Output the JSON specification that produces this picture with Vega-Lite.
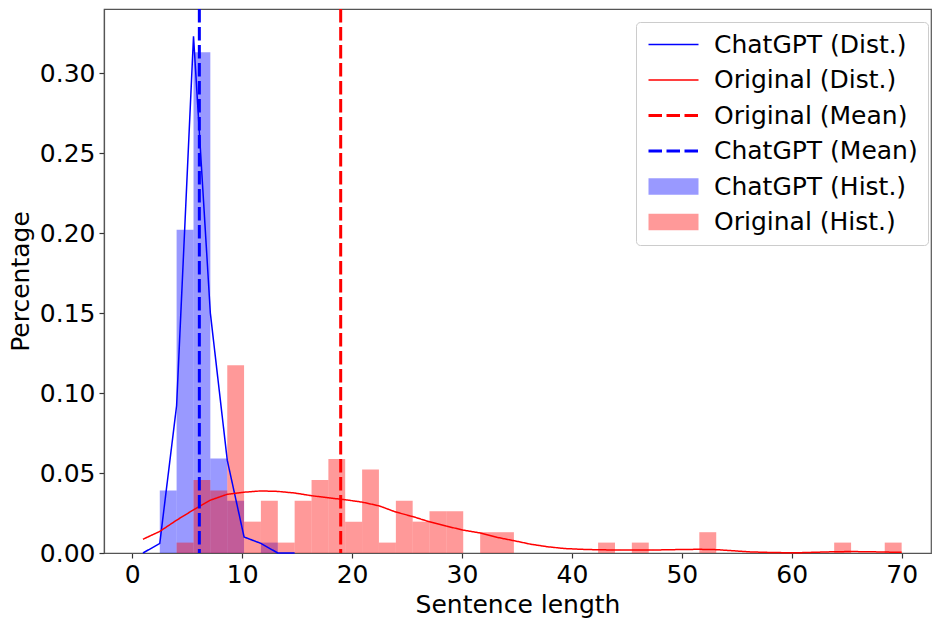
{
  "$schema": "https://vega.github.io/schema/vega-lite/v6.json",
  "width": 827,
  "height": 544,
  "autosize": {"type": "none"},
  "padding": {"left": 104, "top": 9, "right": 1, "bottom": 69},
  "background": "white",
  "config": {
    "font": "DejaVu Sans",
    "view": {"stroke": "#555", "strokeWidth": 1.2},
    "axis": {
      "grid": false,
      "domainColor": "#555",
      "domainWidth": 1.2,
      "tickColor": "#333",
      "tickWidth": 1.2,
      "tickSize": 5,
      "labelFont": "DejaVu Sans",
      "labelFontSize": 25,
      "labelColor": "#000",
      "titleFont": "DejaVu Sans",
      "titleFontSize": 25,
      "titleFontWeight": "normal",
      "titleColor": "#000"
    }
  },
  "datasets": {
    "hist": [
      {"series": "ChatGPT (Hist.)", "x0": 2.50, "x1": 4.03, "y": 0.039},
      {"series": "ChatGPT (Hist.)", "x0": 4.03, "x1": 5.57, "y": 0.202},
      {"series": "ChatGPT (Hist.)", "x0": 5.57, "x1": 7.10, "y": 0.313},
      {"series": "ChatGPT (Hist.)", "x0": 7.10, "x1": 8.64, "y": 0.059},
      {"series": "ChatGPT (Hist.)", "x0": 8.64, "x1": 10.17, "y": 0.0326},
      {"series": "ChatGPT (Hist.)", "x0": 11.70, "x1": 13.24, "y": 0.0065},
      {"series": "Original (Hist.)", "x0": 4.03, "x1": 5.57, "y": 0.0065},
      {"series": "Original (Hist.)", "x0": 5.57, "x1": 7.10, "y": 0.0456},
      {"series": "Original (Hist.)", "x0": 7.10, "x1": 8.64, "y": 0.0391},
      {"series": "Original (Hist.)", "x0": 8.64, "x1": 10.17, "y": 0.1173},
      {"series": "Original (Hist.)", "x0": 10.17, "x1": 11.70, "y": 0.0196},
      {"series": "Original (Hist.)", "x0": 11.70, "x1": 13.24, "y": 0.0326},
      {"series": "Original (Hist.)", "x0": 13.24, "x1": 14.77, "y": 0.0065},
      {"series": "Original (Hist.)", "x0": 14.77, "x1": 16.31, "y": 0.0326},
      {"series": "Original (Hist.)", "x0": 16.31, "x1": 17.84, "y": 0.0456},
      {"series": "Original (Hist.)", "x0": 17.84, "x1": 19.37, "y": 0.0587},
      {"series": "Original (Hist.)", "x0": 19.37, "x1": 20.91, "y": 0.0196},
      {"series": "Original (Hist.)", "x0": 20.91, "x1": 22.44, "y": 0.0522},
      {"series": "Original (Hist.)", "x0": 22.44, "x1": 23.98, "y": 0.0065},
      {"series": "Original (Hist.)", "x0": 23.98, "x1": 25.51, "y": 0.0326},
      {"series": "Original (Hist.)", "x0": 25.51, "x1": 27.04, "y": 0.0196},
      {"series": "Original (Hist.)", "x0": 27.04, "x1": 28.58, "y": 0.0261},
      {"series": "Original (Hist.)", "x0": 28.58, "x1": 30.11, "y": 0.0261},
      {"series": "Original (Hist.)", "x0": 31.65, "x1": 33.18, "y": 0.0130},
      {"series": "Original (Hist.)", "x0": 33.18, "x1": 34.72, "y": 0.0130},
      {"series": "Original (Hist.)", "x0": 42.38, "x1": 43.92, "y": 0.0065},
      {"series": "Original (Hist.)", "x0": 45.45, "x1": 46.99, "y": 0.0065},
      {"series": "Original (Hist.)", "x0": 51.59, "x1": 53.13, "y": 0.0130},
      {"series": "Original (Hist.)", "x0": 63.86, "x1": 65.40, "y": 0.0065},
      {"series": "Original (Hist.)", "x0": 68.46, "x1": 70.00, "y": 0.0065}
    ],
    "kde": [
      {"series": "ChatGPT (Dist.)", "x": 0.97, "y": 0.0},
      {"series": "ChatGPT (Dist.)", "x": 2.50, "y": 0.006},
      {"series": "ChatGPT (Dist.)", "x": 4.03, "y": 0.092},
      {"series": "ChatGPT (Dist.)", "x": 5.57, "y": 0.323},
      {"series": "ChatGPT (Dist.)", "x": 7.10, "y": 0.150},
      {"series": "ChatGPT (Dist.)", "x": 8.64, "y": 0.058},
      {"series": "ChatGPT (Dist.)", "x": 10.17, "y": 0.010},
      {"series": "ChatGPT (Dist.)", "x": 11.70, "y": 0.006},
      {"series": "ChatGPT (Dist.)", "x": 13.24, "y": 0.0},
      {"series": "ChatGPT (Dist.)", "x": 14.77, "y": 0.0},
      {"series": "Original (Dist.)", "x": 0.97, "y": 0.0086},
      {"series": "Original (Dist.)", "x": 2.50, "y": 0.0135},
      {"series": "Original (Dist.)", "x": 4.03, "y": 0.0205},
      {"series": "Original (Dist.)", "x": 5.57, "y": 0.027},
      {"series": "Original (Dist.)", "x": 7.10, "y": 0.033},
      {"series": "Original (Dist.)", "x": 8.64, "y": 0.0367},
      {"series": "Original (Dist.)", "x": 10.17, "y": 0.038},
      {"series": "Original (Dist.)", "x": 11.70, "y": 0.0388},
      {"series": "Original (Dist.)", "x": 13.24, "y": 0.0385},
      {"series": "Original (Dist.)", "x": 14.77, "y": 0.0375},
      {"series": "Original (Dist.)", "x": 16.31, "y": 0.0358},
      {"series": "Original (Dist.)", "x": 17.84, "y": 0.0345},
      {"series": "Original (Dist.)", "x": 19.37, "y": 0.0333},
      {"series": "Original (Dist.)", "x": 20.91, "y": 0.0318},
      {"series": "Original (Dist.)", "x": 22.44, "y": 0.0295},
      {"series": "Original (Dist.)", "x": 23.98, "y": 0.0256},
      {"series": "Original (Dist.)", "x": 25.51, "y": 0.0228},
      {"series": "Original (Dist.)", "x": 27.04, "y": 0.0195},
      {"series": "Original (Dist.)", "x": 28.58, "y": 0.0168},
      {"series": "Original (Dist.)", "x": 30.11, "y": 0.0143},
      {"series": "Original (Dist.)", "x": 31.65, "y": 0.0125},
      {"series": "Original (Dist.)", "x": 33.18, "y": 0.0098},
      {"series": "Original (Dist.)", "x": 34.72, "y": 0.0077},
      {"series": "Original (Dist.)", "x": 36.25, "y": 0.0055},
      {"series": "Original (Dist.)", "x": 37.78, "y": 0.0039},
      {"series": "Original (Dist.)", "x": 39.32, "y": 0.0028},
      {"series": "Original (Dist.)", "x": 40.85, "y": 0.0023},
      {"series": "Original (Dist.)", "x": 42.39, "y": 0.002},
      {"series": "Original (Dist.)", "x": 43.92, "y": 0.0019},
      {"series": "Original (Dist.)", "x": 45.46, "y": 0.0018},
      {"series": "Original (Dist.)", "x": 46.99, "y": 0.0018},
      {"series": "Original (Dist.)", "x": 48.52, "y": 0.002},
      {"series": "Original (Dist.)", "x": 50.06, "y": 0.0022},
      {"series": "Original (Dist.)", "x": 51.59, "y": 0.0023},
      {"series": "Original (Dist.)", "x": 53.13, "y": 0.0021},
      {"series": "Original (Dist.)", "x": 54.66, "y": 0.0014},
      {"series": "Original (Dist.)", "x": 56.20, "y": 0.0007},
      {"series": "Original (Dist.)", "x": 57.73, "y": 0.0004},
      {"series": "Original (Dist.)", "x": 59.26, "y": 0.0002},
      {"series": "Original (Dist.)", "x": 60.80, "y": 0.0002},
      {"series": "Original (Dist.)", "x": 62.33, "y": 0.0005},
      {"series": "Original (Dist.)", "x": 63.87, "y": 0.0008},
      {"series": "Original (Dist.)", "x": 65.40, "y": 0.0009},
      {"series": "Original (Dist.)", "x": 66.94, "y": 0.0008},
      {"series": "Original (Dist.)", "x": 68.47, "y": 0.0006},
      {"series": "Original (Dist.)", "x": 70.00, "y": 0.0004}
    ],
    "means": [
      {"series": "Original (Mean)", "x": 18.96},
      {"series": "ChatGPT (Mean)", "x": 6.1}
    ]
  },
  "layer": [
    {
      "data": {"name": "hist"},
      "mark": {"type": "bar", "strokeWidth": 0},
      "encoding": {
        "x": {
          "field": "x0", "type": "quantitative",
          "scale": {"domain": [-2.575, 72.67], "nice": false, "zero": false},
          "axis": {"values": [0, 10, 20, 30, 40, 50, 60, 70], "format": "d", "title": "Sentence length", "labelPadding": 4, "titlePadding": 5}
        },
        "x2": {"field": "x1"},
        "y": {
          "field": "y", "type": "quantitative",
          "scale": {"domain": [0, 0.34], "nice": false},
          "axis": {"values": [0, 0.05, 0.1, 0.15, 0.2, 0.25, 0.3], "format": ".2f", "title": "Percentage", "labelPadding": 4, "titlePadding": 6}
        },
        "y2": {"datum": 0},
        "fill": {
          "field": "series", "type": "nominal",
          "scale": {
            "domain": ["ChatGPT (Dist.)", "Original (Dist.)", "Original (Mean)", "ChatGPT (Mean)", "ChatGPT (Hist.)", "Original (Hist.)"],
            "range": ["transparent", "transparent", "transparent", "transparent", "rgba(0,0,255,0.4)", "rgba(255,0,0,0.4)"]
          },
          "legend": {"title": null}
        }
      }
    },
    {
      "data": {"name": "kde"},
      "mark": {"type": "line"},
      "encoding": {
        "x": {"field": "x", "type": "quantitative"},
        "y": {"field": "y", "type": "quantitative"},
        "stroke": {
          "field": "series", "type": "nominal",
          "scale": {
            "domain": ["ChatGPT (Dist.)", "Original (Dist.)", "Original (Mean)", "ChatGPT (Mean)", "ChatGPT (Hist.)", "Original (Hist.)"],
            "range": ["#0000ff", "#ff0000", "#ff0000", "#0000ff", "transparent", "transparent"]
          },
          "legend": {
            "title": null,
            "orient": "none",
            "legendX": 532,
            "legendY": 13,
            "padding": 10,
            "fillColor": "rgba(255,255,255,0.8)",
            "strokeColor": "#cccccc",
            "cornerRadius": 4,
            "labelFont": "DejaVu Sans",
            "labelFontSize": 25,
            "labelColor": "#000",
            "labelOffset": 43,
            "labelLimit": 400,
            "symbolSize": 400,
            "symbolType": "M-1,0H4",
            "symbolOpacity": 1,
            "rowPadding": 9.5
          }
        },
        "strokeWidth": {
          "field": "series", "type": "nominal",
          "scale": {
            "type": "ordinal",
            "domain": ["ChatGPT (Dist.)", "Original (Dist.)", "Original (Mean)", "ChatGPT (Mean)", "ChatGPT (Hist.)", "Original (Hist.)"],
            "range": [1.5, 1.5, 3, 3, 0, 0]
          },
          "legend": {"title": null}
        },
        "strokeDash": {
          "field": "series", "type": "nominal",
          "scale": {
            "domain": ["ChatGPT (Dist.)", "Original (Dist.)", "Original (Mean)", "ChatGPT (Mean)", "ChatGPT (Hist.)", "Original (Hist.)"],
            "range": [[1, 0], [1, 0], [13.5, 4.5], [13.5, 4.5], [1, 0], [1, 0]]
          },
          "legend": {"title": null}
        }
      }
    },
    {
      "data": {"name": "means"},
      "mark": {"type": "rule"},
      "encoding": {
        "x": {"field": "x", "type": "quantitative"},
        "stroke": {
          "field": "series", "type": "nominal",
          "scale": {
            "domain": ["ChatGPT (Dist.)", "Original (Dist.)", "Original (Mean)", "ChatGPT (Mean)", "ChatGPT (Hist.)", "Original (Hist.)"],
            "range": ["#0000ff", "#ff0000", "#ff0000", "#0000ff", "transparent", "transparent"]
          },
          "legend": {"title": null}
        },
        "strokeWidth": {
          "field": "series", "type": "nominal",
          "scale": {
            "type": "ordinal",
            "domain": ["ChatGPT (Dist.)", "Original (Dist.)", "Original (Mean)", "ChatGPT (Mean)", "ChatGPT (Hist.)", "Original (Hist.)"],
            "range": [1.5, 1.5, 3, 3, 0, 0]
          },
          "legend": {"title": null}
        },
        "strokeDash": {
          "field": "series", "type": "nominal",
          "scale": {
            "domain": ["ChatGPT (Dist.)", "Original (Dist.)", "Original (Mean)", "ChatGPT (Mean)", "ChatGPT (Hist.)", "Original (Hist.)"],
            "range": [[1, 0], [1, 0], [13.5, 4.5], [13.5, 4.5], [1, 0], [1, 0]]
          },
          "legend": {"title": null}
        }
      }
    },
    {
      "data": {"name": "means"},
      "mark": {"type": "point", "opacity": 0},
      "encoding": {
        "x": {"field": "x", "type": "quantitative"},
        "shape": {
          "field": "series", "type": "nominal",
          "scale": {
            "domain": ["ChatGPT (Dist.)", "Original (Dist.)", "Original (Mean)", "ChatGPT (Mean)", "ChatGPT (Hist.)", "Original (Hist.)"],
            "range": ["M-1,0H4", "M-1,0H4", "M-1,0H4", "M-1,0H4", "M-1,-0.83H4V0.83H-1Z", "M-1,-0.83H4V0.83H-1Z"]
          },
          "legend": {"title": null}
        }
      }
    }
  ]
}
